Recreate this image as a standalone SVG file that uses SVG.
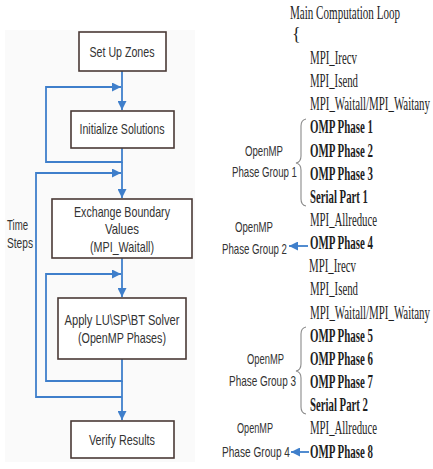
<svg xmlns="http://www.w3.org/2000/svg" width="433" height="469" viewBox="0 0 433 469">
<style>
.box{fill:#ffffff;stroke:#4a3a36;stroke-width:1.6}
.bt{font-family:"Liberation Sans",Arial,sans-serif;font-size:15px;fill:#333333;text-anchor:middle}
.lt{font-family:"Liberation Sans",Arial,sans-serif;font-size:14.5px;fill:#333333}
.rt{font-family:"Liberation Serif","Times New Roman",serif;font-size:18px;fill:#1e1e1e}
.rb{font-family:"Liberation Serif","Times New Roman",serif;font-size:18px;fill:#1e1e1e;font-weight:bold}
.con{fill:none;stroke:#3f7fcb;stroke-width:1.8}
.brace{fill:none;stroke:#8a8a8a;stroke-width:1.1}
</style>
<defs>
<marker id="ah" viewBox="0 0 10 10" refX="10" refY="5" markerWidth="10" markerHeight="9" markerUnits="userSpaceOnUse" orient="auto">
<path d="M0,0 L10,5 L0,10 z" fill="#3f7fcb"/>
</marker>
</defs>
<rect x="0" y="0" width="433" height="469" fill="#ffffff"/>
<rect x="5" y="30" width="190" height="432" fill="#fafafa"/>

<g id="connectors">
<path class="con" d="M122,71 V110" marker-end="url(#ah)"/>
<path class="con" d="M122,148 V162 H46 V87 H121" marker-end="url(#ah)"/>
<path class="con" d="M122,162 V198" marker-end="url(#ah)"/>
<path class="con" d="M122,397 H36 V173 H121" marker-end="url(#ah)"/>
<path class="con" d="M122,258 V297" marker-end="url(#ah)"/>
<path class="con" d="M122,359 V381 H46 V274 H121" marker-end="url(#ah)"/>
<path class="con" d="M122,381 V420" marker-end="url(#ah)"/>
<path class="con" d="M308,246 H289" marker-end="url(#ah)"/>
<path class="con" d="M309,452 H291" marker-end="url(#ah)"/>
</g>

<g id="setup">
<rect class="box" x="79" y="32" width="87" height="39"/>
<text class="bt" x="122" y="57" textLength="65" lengthAdjust="spacingAndGlyphs">Set Up Zones</text>
</g>
<g id="init">
<rect class="box" x="71" y="111" width="103" height="37"/>
<text class="bt" x="122" y="134" textLength="85" lengthAdjust="spacingAndGlyphs">Initialize Solutions</text>
</g>
<g id="exchange">
<rect class="box" x="52" y="199" width="140" height="59"/>
<text class="bt" x="122" y="217" textLength="96" lengthAdjust="spacingAndGlyphs">Exchange Boundary</text>
<text class="bt" x="122" y="234" textLength="34" lengthAdjust="spacingAndGlyphs">Values</text>
<text class="bt" x="122" y="252" textLength="64" lengthAdjust="spacingAndGlyphs">(MPI_Waitall)</text>
</g>
<g id="apply">
<rect class="box" x="58" y="298" width="128" height="61"/>
<text class="bt" x="122" y="325" textLength="115" lengthAdjust="spacingAndGlyphs">Apply  LU\SP\BT Solver</text>
<text class="bt" x="122" y="343" textLength="88" lengthAdjust="spacingAndGlyphs">(OpenMP Phases)</text>
</g>
<g id="verify">
<rect class="box" x="71" y="421" width="103" height="37"/>
<text class="bt" x="122" y="445" textLength="66" lengthAdjust="spacingAndGlyphs">Verify Results</text>
</g>
<g id="timesteps">
<text class="lt" x="7" y="230" textLength="21" lengthAdjust="spacingAndGlyphs">Time</text>
<text class="lt" x="7" y="248" textLength="26" lengthAdjust="spacingAndGlyphs">Steps</text>
</g>

<g id="code">
<text class="rt" x="290" y="19" textLength="110" lengthAdjust="spacingAndGlyphs">Main Computation Loop</text>
<text class="rt" x="292" y="40">{</text>
<text class="rt" x="310" y="63.8" textLength="47" lengthAdjust="spacingAndGlyphs">MPI_Irecv</text>
<text class="rt" x="310" y="87" textLength="48" lengthAdjust="spacingAndGlyphs">MPI_Isend</text>
<text class="rt" x="310" y="110.1" textLength="120" lengthAdjust="spacingAndGlyphs">MPI_Waitall/MPI_Waitany</text>
<text class="rb" x="310" y="133.3" textLength="63" lengthAdjust="spacingAndGlyphs">OMP Phase 1</text>
<text class="rb" x="310" y="156.5" textLength="63" lengthAdjust="spacingAndGlyphs">OMP Phase 2</text>
<text class="rb" x="310" y="179.6" textLength="63" lengthAdjust="spacingAndGlyphs">OMP Phase 3</text>
<text class="rb" x="310" y="202.8" textLength="58" lengthAdjust="spacingAndGlyphs">Serial Part 1</text>
<text class="rt" x="310" y="225.9" textLength="67" lengthAdjust="spacingAndGlyphs">MPI_Allreduce</text>
<text class="rb" x="310" y="249.1" textLength="63" lengthAdjust="spacingAndGlyphs">OMP Phase 4</text>
<text class="rt" x="309" y="272.3" textLength="47" lengthAdjust="spacingAndGlyphs">MPI_Irecv</text>
<text class="rt" x="310" y="295.4" textLength="48" lengthAdjust="spacingAndGlyphs">MPI_Isend</text>
<text class="rt" x="310" y="318.6" textLength="120" lengthAdjust="spacingAndGlyphs">MPI_Waitall/MPI_Waitany</text>
<text class="rb" x="310" y="341.7" textLength="63" lengthAdjust="spacingAndGlyphs">OMP Phase 5</text>
<text class="rb" x="310" y="364.9" textLength="63" lengthAdjust="spacingAndGlyphs">OMP Phase 6</text>
<text class="rb" x="310" y="388.1" textLength="63" lengthAdjust="spacingAndGlyphs">OMP Phase 7</text>
<text class="rb" x="310" y="411.2" textLength="58" lengthAdjust="spacingAndGlyphs">Serial Part 2</text>
<text class="rt" x="310" y="434.4" textLength="67" lengthAdjust="spacingAndGlyphs">MPI_Allreduce</text>
<text class="rb" x="310" y="457.5" textLength="63" lengthAdjust="spacingAndGlyphs">OMP Phase 8</text>
</g>

<g id="group1">
<path class="brace" d="M306,119 Q301,120 301,126 V156 Q301,162 296,163 Q301,164 301,170 V199 Q301,205 306,206"/>
<text class="lt" x="245" y="156" textLength="38" lengthAdjust="spacingAndGlyphs">OpenMP</text>
<text class="lt" x="232" y="177" textLength="65" lengthAdjust="spacingAndGlyphs">Phase Group 1</text>
</g>
<g id="group2">
<text class="lt" x="235" y="232" textLength="38" lengthAdjust="spacingAndGlyphs">OpenMP</text>
<text class="lt" x="222" y="254" textLength="65" lengthAdjust="spacingAndGlyphs">Phase Group 2</text>
</g>
<g id="group3">
<path class="brace" d="M306,327 Q301,328 301,334 V364 Q301,370 296,371 Q301,372 301,378 V407 Q301,413 306,414"/>
<text class="lt" x="247" y="364" textLength="37" lengthAdjust="spacingAndGlyphs">OpenMP</text>
<text class="lt" x="229" y="386" textLength="67" lengthAdjust="spacingAndGlyphs">Phase Group 3</text>
</g>
<g id="group4">
<text class="lt" x="237" y="433" textLength="36" lengthAdjust="spacingAndGlyphs">OpenMP</text>
<text class="lt" x="222" y="457" textLength="68" lengthAdjust="spacingAndGlyphs">Phase Group 4</text>
</g>
</svg>
